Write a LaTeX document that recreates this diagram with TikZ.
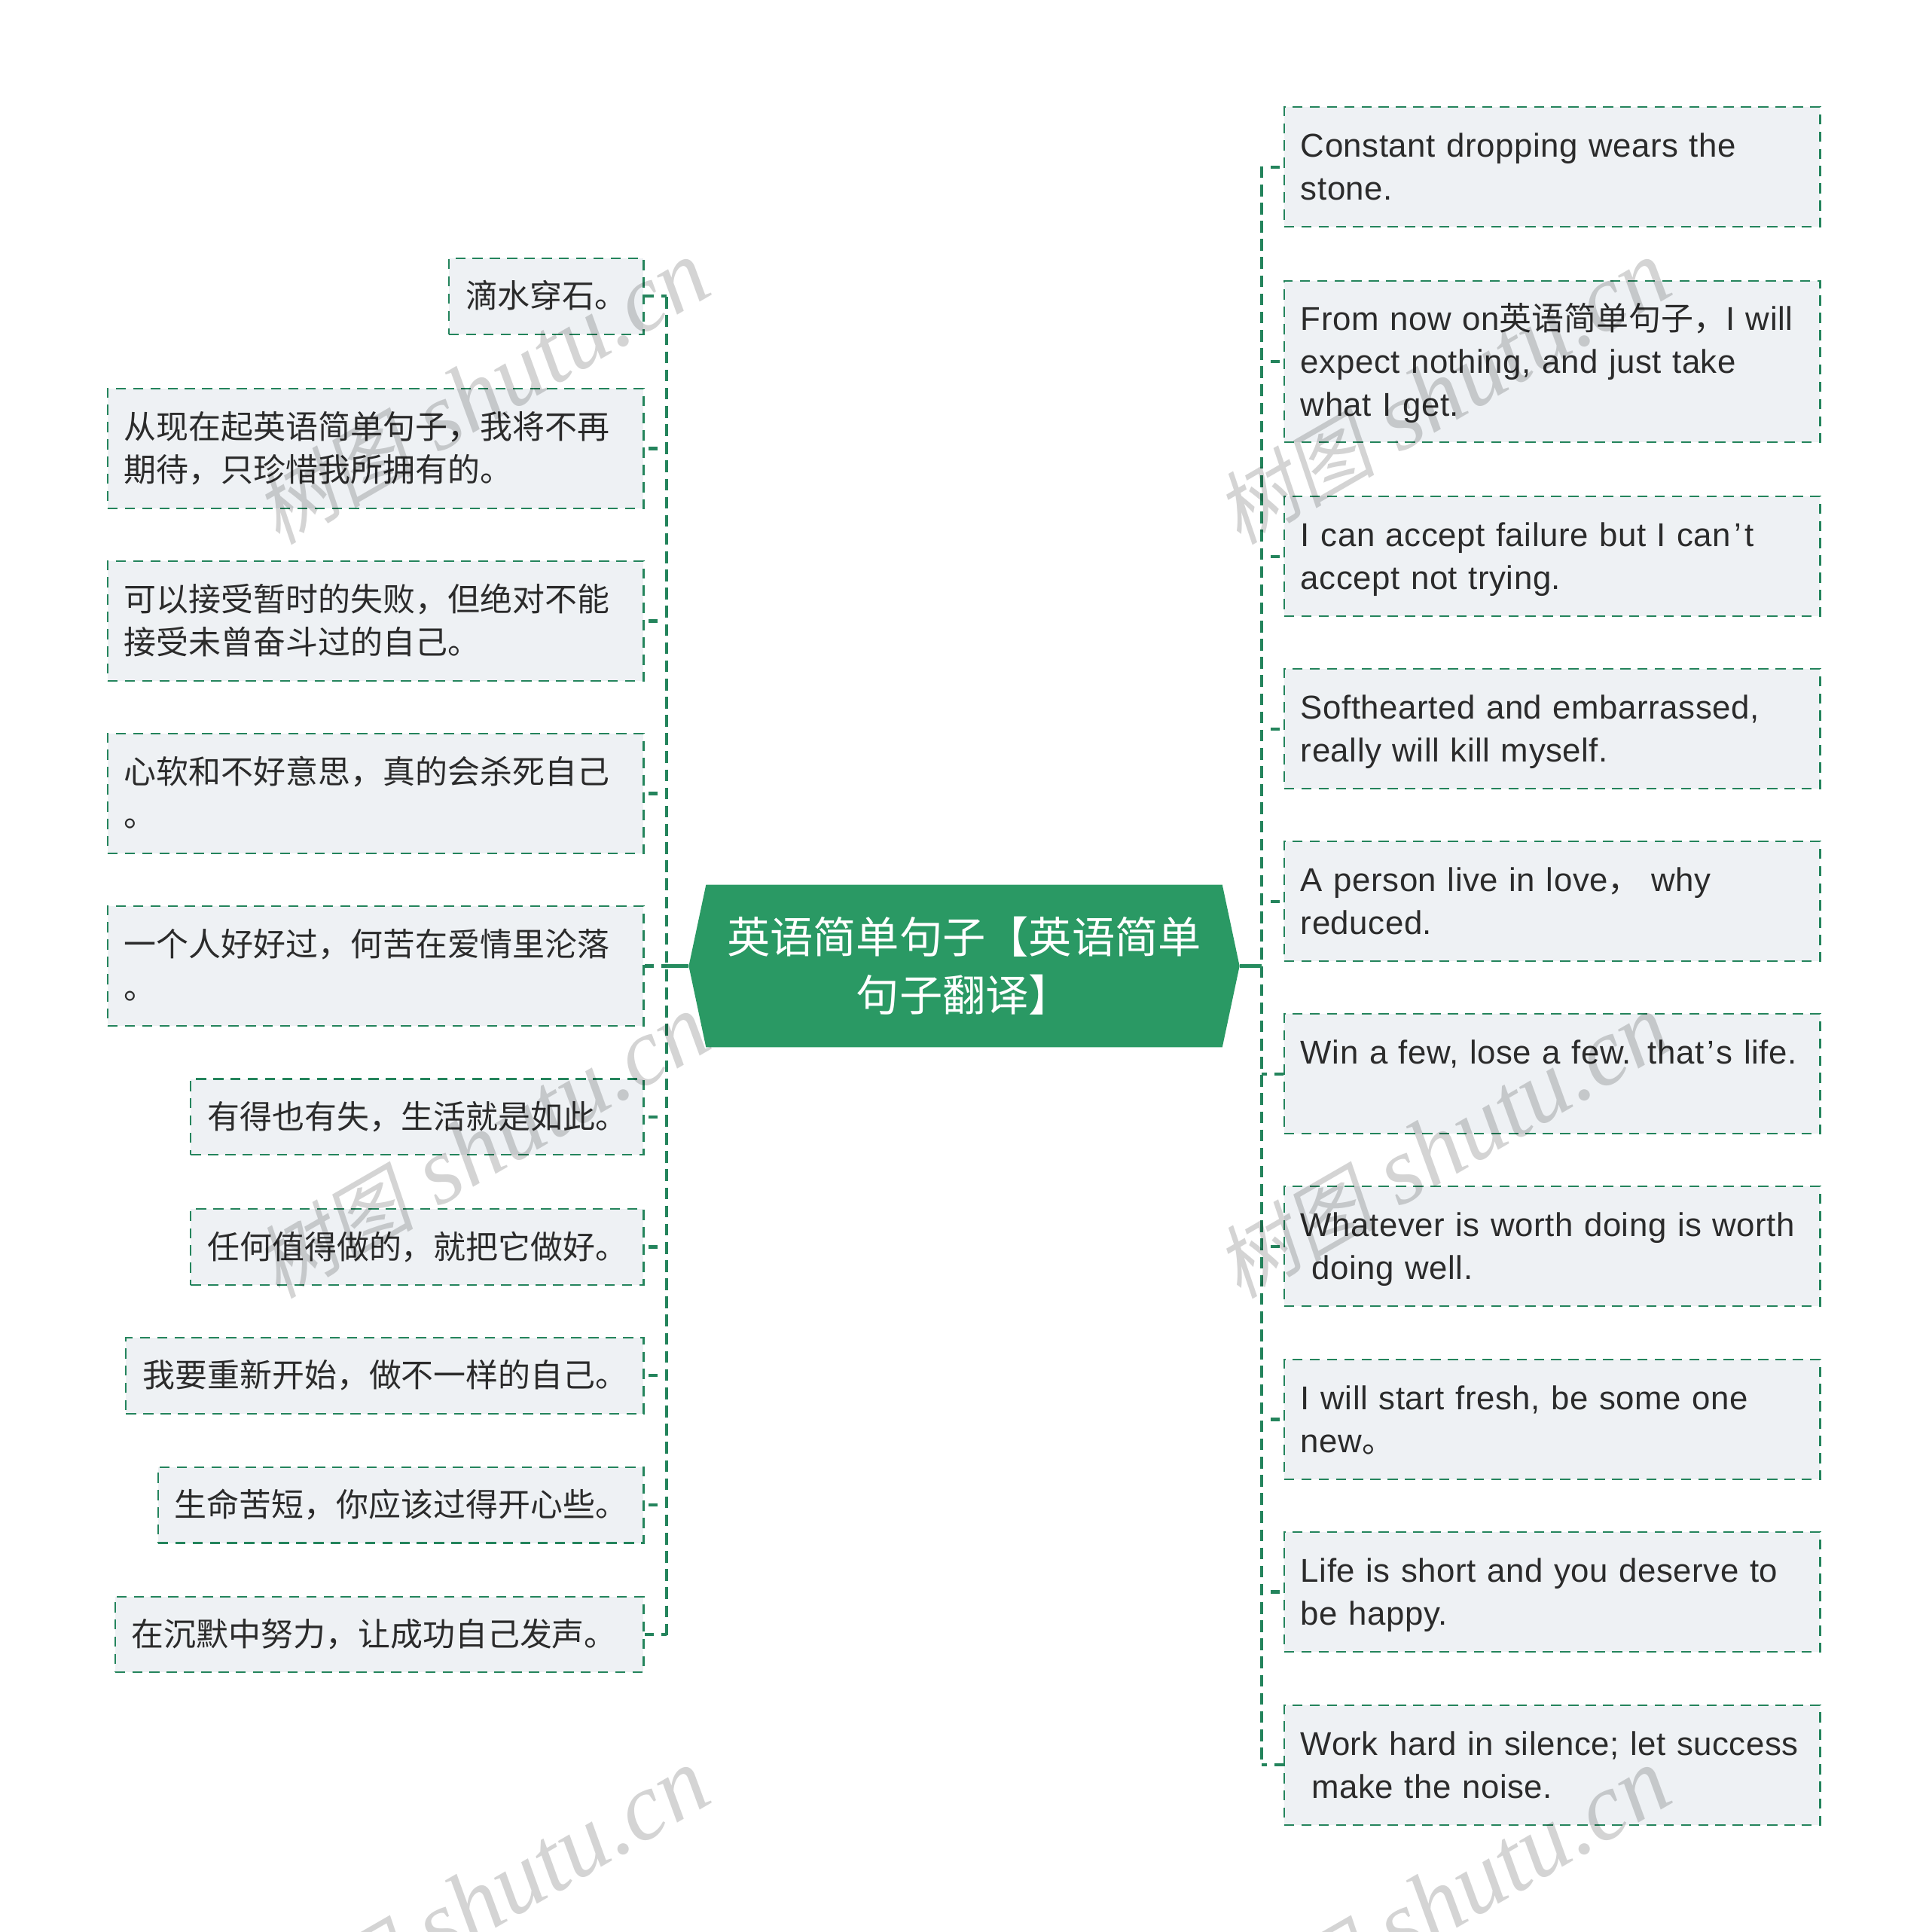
\documentclass[tikz,border=0pt]{standalone}
\usepackage{fontspec}
\setmainfont[Scale=1.02,LetterSpace=1.2]{Liberation Sans}
\newfontfamily\cj{Noto Sans CJK SC}
\newfontfamily\wmcj[FakeSlant=0.2]{Noto Sans CJK SC}
\newfontfamily\wmen{Liberation Serif}[Ligatures=TeX,ItalicFont=Liberation Serif Italic]
\usetikzlibrary{calc}
\definecolor{gline}{RGB}{36,132,92}
\definecolor{gfill}{RGB}{42,153,100}
\definecolor{boxfill}{RGB}{238,241,244}
\definecolor{ink}{RGB}{43,43,43}
\newcommand{\linestrut}{\rule[-3.2pt]{0pt}{14pt}}
\tikzset{
  sbox/.style={draw=gline,fill=boxfill,line width=0.55pt,dash pattern=on 3.3pt off 2.3pt,
    inner xsep=5.4pt,inner ysep=0pt,minimum height=#1*0.4pt,text=ink,align=left,
    font=\fontsize{10.5}{14}\selectfont,
    execute at begin node=\linestrut,execute at end node=\linestrut},
  rbox/.style={sbox=97,anchor=west,text width=163.2pt},
  lwide/.style={sbox=97,anchor=east,text width=163.2pt},
  lone/.style={sbox=61.5,anchor=east,text width=#1},
  spine/.style={draw=gline,line width=1pt,dash pattern=on 3.8pt off 2.1pt},
  branch/.style={draw=gline,line width=1pt,dash pattern=on 0pt off 2.9pt on 2.9pt off 8pt},
  branchc/.style={draw=gline,line width=1pt,line join=round,dash pattern=on 1.8pt off 2.4pt on 3.6pt off 8pt},
  trunk/.style={draw=gline!60!gfill,line width=1.2pt},
  center text/.style={text=white,align=center,font=\fontsize{14}{18.8}\selectfont\cj},
  wm/.style={text=black,text opacity=0.17,rotate=30,inner sep=0pt},
}
\begin{document}
\begin{tikzpicture}[x=0.4pt,y=-0.4pt]
\useasboundingbox (0,0) rectangle (1565,1568);
\fill[white] (0,0) rectangle (1565,1568);
% spines
\coordinate (lstop) at (541,241);
\coordinate (lsbot) at (541,1327);
\coordinate (rstop) at (1024,135);
\coordinate (rsbot) at (1024,1433);
\draw[spine] (lstop) -- (lsbot);
\draw[spine] (rstop) -- (rsbot);
% centre
\fill[gfill] (573,718) -- (992,718) -- (1006,784) -- (992,850) -- (573,850) -- (559,784) -- cycle;
\coordinate (cl) at (559,784);
\coordinate (cr) at (1006,784);
\node[center text] (c) at (782.5,784) {英语简单句子【英语简单\\句子翻译】};
% right boxes
\node[rbox] (r1) at (1041.5,135.5) {Constant dropping wears the\\stone.};
\node[rbox,sbox=131] (r2) at (1041.5,293.5) {From now on{\cj 英语简单句子，}I will\\expect nothing, and just take\\what I get.};
\node[rbox] (r3) at (1041.5,451.5) {I can accept failure but I can\kern.1em’\kern.1em t\\accept not trying.};
\node[rbox] (r4) at (1041.5,591.5) {Softhearted and embarrassed,\\really will kill myself.};
\node[rbox] (r5) at (1041.5,731.5) {A person live in love{\cj ，} why\\reduced.};
\node[rbox] (r6) at (1041.5,871.5) {Win a few, lose a few. that\kern.1em’\kern.05em s life.\\\mbox{}};
\node[rbox] (r7) at (1041.5,1011.5) {Whatever is worth doing is worth\\\hspace*{3.6pt}doing well.};
\node[rbox] (r8) at (1041.5,1152) {I will start fresh, be some one\\new{\cj 。}};
\node[rbox] (r9) at (1041.5,1292) {Life is short and you deserve to\\be happy.};
\node[rbox] (r10) at (1041.5,1432.5) {Work hard in silence; let success\\\hspace*{3.6pt}make the noise.};
% left boxes
\node[lone=52.4pt] (l1) at (523,240.5) {\cj 滴水穿石。};
\node[lwide] (l2) at (523,364) {\cj 从现在起英语简单句子，我将不再\\\cj 期待，只珍惜我所拥有的。};
\node[lwide] (l3) at (523,504) {\cj 可以接受暂时的失败，但绝对不能\\\cj 接受未曾奋斗过的自己。};
\node[lwide] (l4) at (523,644) {\cj 心软和不好意思，真的会杀死自己\\\cj 。};
\node[lwide] (l5) at (523,784) {\cj 一个人好好过，何苦在爱情里沦落\\\cj 。};
\node[lone=136.2pt] (l6) at (523,906.5) {\cj 有得也有失，生活就是如此。};
\node[lone=136.2pt] (l7) at (523,1012) {\cj 任何值得做的，就把它做好。};
\node[lone=157.2pt] (l8) at (523,1116.5) {\cj 我要重新开始，做不一样的自己。};
\node[lone=146.8pt] (l9) at (523,1221.5) {\cj 生命苦短，你应该过得开心些。};
\node[lone=160.8pt] (l10) at (523,1326.5) {\cj 在沉默中努力，让成功自己发声。};
% connectors
\draw[trunk] (cl) -- (cl -| lstop);
\draw[trunk] (cr) -- (cr -| rstop);
\foreach \n in {r1,r2,r3,r4,r5,r7,r8,r9}
  \draw[branch] (\n.west -| rstop) -- (\n.west);
\foreach \n in {r6,r10}
  \draw[branchc] (\n.west -| rstop) -- (\n.west);
\foreach \n in {l2,l3,l4,l6,l7,l8,l9}
  \draw[branch] (\n.east -| lstop) -- (\n.east);
\foreach \n in {l1,l5,l10}
  \draw[branchc] (\n.east -| lstop) -- (\n.east);
% watermarks
\foreach \i/\px/\py in {a/391/319,b/1171/319,c/391/931,d/1171/931,e/391/1543,f/1171/1543}
  \node[wm] (wm\i) at (\px,\py) {{\wmcj\fontsize{26}{26}\selectfont 树图}\hspace{8pt}{\wmen\itshape\fontsize{31}{31}\selectfont shutu.cn}};
\end{tikzpicture}
\end{document}
